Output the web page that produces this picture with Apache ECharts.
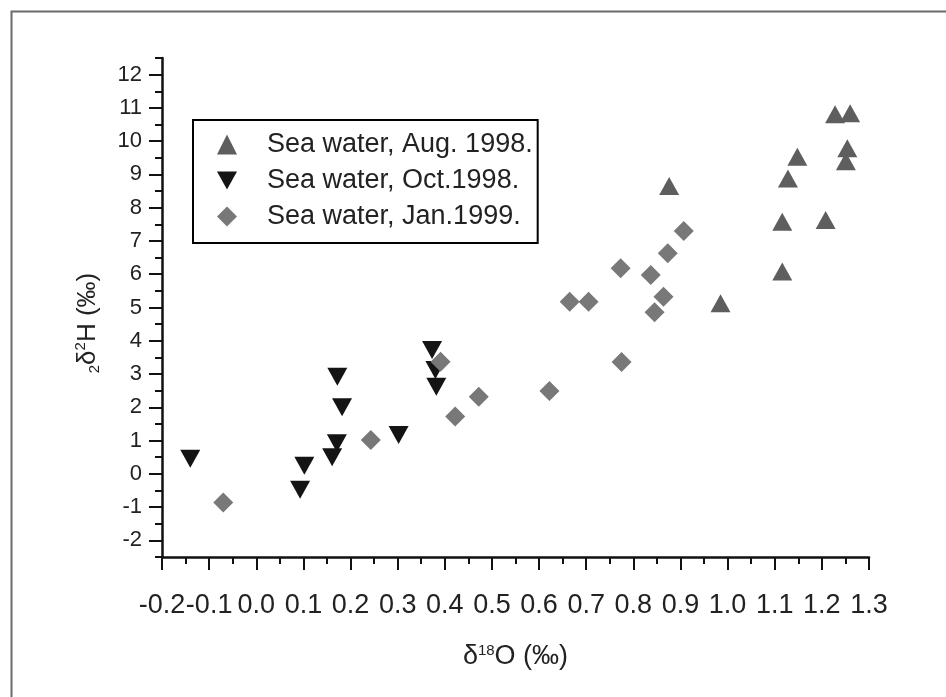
<!DOCTYPE html>
<html>
<head>
<meta charset="utf-8">
<script src="https://cdn.jsdelivr.net/npm/echarts@6/dist/echarts.min.js"></script>
<style>html,body{margin:0;padding:0;background:#fff}#c{width:946px;height:697px}</style>
</head>
<body>
<div id="c"></div>
<script>
const seriesNames = ['Sea water, Aug. 1998.', 'Sea water, Oct.1998.', 'Sea water, Jan.1999.'];

const augX = [1.228, 1.260, 1.254, 1.251, 1.148, 1.128, 0.876, 1.116, 1.208, 1.116, 0.985];
const augY = [10.81, 10.84, 9.79, 9.40, 9.53, 8.88, 8.65, 7.58, 7.63, 6.08, 5.13];

const octX = [-0.140, 0.093, 0.102, 0.172, 0.182, 0.171, 0.161, 0.302, 0.373, 0.380, 0.382];
const octY = [0.45, -0.48, 0.24, 2.92, 2.00, 0.92, 0.50, 1.17, 3.72, 3.12, 2.62];

const janX = [-0.070, 0.243, 0.391, 0.472, 0.422, 0.622, 0.775, 0.665, 0.705, 0.773, 0.837, 0.845, 0.864, 0.873, 0.907];
const janY = [-0.86, 1.02, 3.37, 2.32, 1.72, 2.49, 3.36, 5.17, 5.17, 6.18, 5.98, 4.86, 5.32, 6.63, 7.30];

const xTickLabels = ['-0.2','-0.1','0.0','0.1','0.2','0.3','0.4','0.5','0.6','0.7','0.8','0.9','1.0','1.1','1.2','1.3'];
const yTickLabels = ['-2','-1','0','1','2','3','4','5','6','7','8','9','10','11','12'];

const X_MIN = -0.2, X_MAX = 1.3, Y_MIN = -2.5, Y_MAX = 12.5;

function pairs(xs, ys) { return xs.map((x, i) => [x, ys[i]]); }

// category positions for major-tick overlay (every half unit)
const halfSteps = [];
for (let v = Y_MIN; v <= Y_MAX + 1e-9; v += 0.5) halfSteps.push(String(v));

const FONT = '"Liberation Sans", Arial, Helvetica, sans-serif';
const downTri = 'path://M0,0 L20,0 L10,18 Z';

const chart = echarts.init(document.getElementById('c'), null, { renderer: 'canvas' });
chart.setOption({
  backgroundColor: '#ffffff',
  animation: false,
  textStyle: { fontFamily: FONT },
  grid: { left: 162, right: 77, top: 58, bottom: 140, containLabel: false },
  graphic: [
    { type: 'rect', left: 9, top: 9, z: -10, silent: true,
      shape: { width: 980, height: 760 },
      style: { fill: 'none', stroke: '#6a6a6a', lineWidth: 2 } },
    { type: 'text', x: 88, y: 323, rotation: Math.PI / 2, z: 10,
      style: {
        text: '{sub|2}δ{sup|2}H (‰)',
        font: '26px ' + FONT, fill: '#222', align: 'center', verticalAlign: 'middle',
        rich: {
          sub: { fontSize: 15, fontFamily: FONT, fill: '#222', verticalAlign: 'bottom', padding: [14, 0, 0, 0] },
          sup: { fontSize: 15, fontFamily: FONT, fill: '#222', verticalAlign: 'top', padding: [0, 0, 12, 0] }
        }
      } }
  ],
  legend: {
    orient: 'vertical', left: 193, top: 120,
    padding: [11, 5, 13, 24],
    itemGap: 9, itemWidth: 20, itemHeight: 20,
    borderColor: '#000', borderWidth: 2,
    data: [
      { name: seriesNames[0], icon: 'triangle' },
      { name: seriesNames[1], icon: downTri },
      { name: seriesNames[2], icon: 'diamond' }
    ],
    textStyle: { fontSize: 27, color: '#222', fontFamily: FONT, lineHeight: 26, padding: [0, 0, 0, 25] }
  },
  xAxis: {
    type: 'value', min: X_MIN, max: X_MAX, interval: 0.1,
    name: '{d|δ}{sup|18}{d|O (‰)}', nameLocation: 'middle', nameGap: 86,
    nameTextStyle: {
      fontFamily: FONT, color: '#222',
      rich: {
        d: { fontSize: 27, fontFamily: FONT, color: '#222' },
        sup: { fontSize: 15, fontFamily: FONT, color: '#222', verticalAlign: 'top', padding: [0, 0, 12, 0] }
      }
    },
    axisLine: { show: true, onZero: false, lineStyle: { color: '#111', width: 2.5 } },
    axisTick: { show: true, inside: false, length: 13, lineStyle: { color: '#111', width: 2 } },
    minorTick: { show: true, splitNumber: 2, length: 7, lineStyle: { color: '#111', width: 2 } },
    axisLabel: {
      fontSize: 27, color: '#222', margin: 35, fontFamily: FONT,
      showMinLabel: true, showMaxLabel: true, hideOverlap: false,
      formatter: function (v) { const i = Math.round((v - X_MIN) * 10); return xTickLabels[i] || ''; }
    },
    splitLine: { show: false }
  },
  yAxis: [
    {
      type: 'value', min: Y_MIN, max: Y_MAX, interval: 0.5,
      axisLine: { show: true, onZero: false, lineStyle: { color: '#111', width: 2.5 } },
      axisTick: { show: true, length: 7, lineStyle: { color: '#111', width: 2 } },
      axisLabel: {
        fontSize: 22, color: '#222', margin: 20, fontFamily: FONT,
        formatter: function (v) {
          if (Math.abs(v - Math.round(v)) > 1e-6) return '';
          const i = Math.round(v) + 2; return yTickLabels[i] || '';
        }
      },
      splitLine: { show: false }
    },
    {
      type: 'category', data: halfSteps, boundaryGap: false, position: 'left',
      axisLine: { show: false, onZero: false },
      axisTick: { show: true, length: 13, lineStyle: { color: '#111', width: 2 },
        interval: function (i, v) { return Math.abs(+v - Math.round(+v)) < 1e-6; } },
      axisLabel: { show: false },
      splitLine: { show: false }
    }
  ],
  series: [
    { name: seriesNames[0], type: 'scatter', symbol: 'triangle', symbolSize: [20, 18],
      itemStyle: { color: '#5e5e5e', opacity: 1 }, data: pairs(augX, augY) },
    { name: seriesNames[1], type: 'scatter', symbol: downTri, symbolSize: [20, 18],
      itemStyle: { color: '#141414', opacity: 1 }, data: pairs(octX, octY) },
    { name: seriesNames[2], type: 'scatter', symbol: 'diamond', symbolSize: [20, 20],
      itemStyle: { color: '#787878', opacity: 1 }, data: pairs(janX, janY) }
  ]
});
</script>
</body>
</html>
